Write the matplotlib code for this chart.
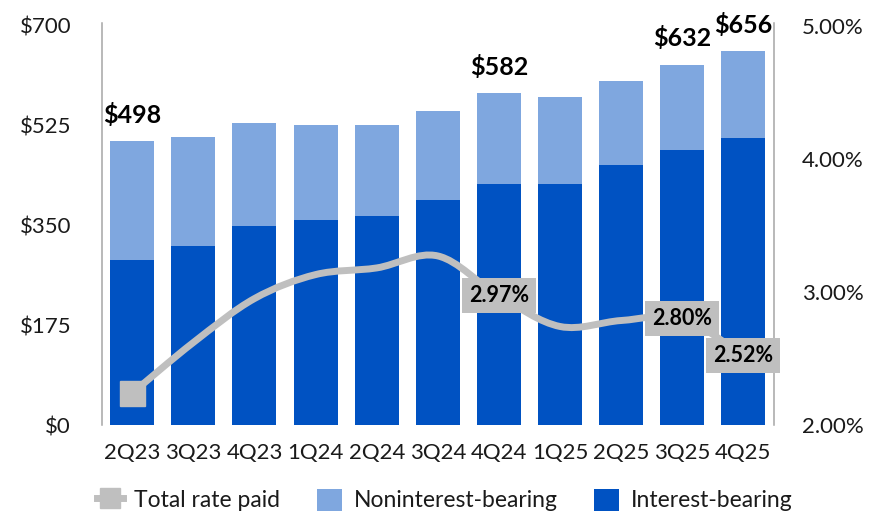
import numpy as np
import matplotlib
matplotlib.use("Agg")
import matplotlib.pyplot as plt
from matplotlib.path import Path
from matplotlib.patches import PathPatch, Patch
from matplotlib.lines import Line2D

plt.rcParams['font.family'] = ['Lato', 'DejaVu Sans']

quarters = ["2Q23", "3Q23", "4Q23", "1Q24", "2Q24", "3Q24", "4Q24", "1Q25", "2Q25", "3Q25", "4Q25"]
interest_bearing = [289, 314, 349, 360, 367, 395, 423, 423, 456, 482, 504]
noninterest_bearing = [209, 191, 180, 166, 159, 155, 159, 153, 148, 150, 152]
total_rate_paid = [2.24, 2.62, 2.95, 3.13, 3.18, 3.27, 2.97, 2.74, 2.785, 2.80, 2.52]
total_label_idx = [0, 6, 9, 10]
rate_label_idx = [6, 9, 10]
left_ticks = [0, 175, 350, 525, 700]
right_ticks = [2.0, 3.0, 4.0, 5.0]

DARK = "#0052C2"
LIGHT = "#7FA7DF"
GRAY = "#BFBFBF"
SPINE = "#A6A6A6"
TXT = "#1A1A1A"

W, H = 888, 515
fig = plt.figure(figsize=(W / 100, H / 100), dpi=100)
ax = fig.add_axes([101.7 / W, (H - 425) / H, (774 - 101.7) / W, 402 / H])
ax2 = ax.twinx()

x = np.arange(len(quarters))
ib = np.array(interest_bearing)
nib = np.array(noninterest_bearing)
ax.bar(x, ib, width=0.72, color=DARK, zorder=2)
ax.bar(x, nib, bottom=ib, width=0.72, color=LIGHT, zorder=2)

ax.set_xlim(-0.5, len(quarters) - 0.5)
ax.set_ylim(0, 705)
ax.set_yticks(left_ticks)
ax.set_yticklabels([f"${v}" for v in left_ticks])
ax.set_xticks(x)
ax.set_xticklabels(quarters)
ax.tick_params(axis='y', length=0, pad=22, labelsize=16, labelcolor=TXT)
ax.tick_params(axis='x', length=0, pad=13, labelsize=16, labelcolor=TXT)

totals = ib + nib
for i in total_label_idx:
    ax.annotate(f"${totals[i]}", (x[i], totals[i]), xytext=(0, 19), textcoords='offset points',
                ha='center', va='center', fontsize=18, fontweight='bold', color='black', zorder=6)

ax2.set_ylim(2.0, 5.0 + 0.02)
ax2.set_yticks(right_ticks)
ax2.set_yticklabels([f"{v:.2f}%" for v in right_ticks])
ax2.tick_params(axis='y', length=0, pad=20, labelsize=16, labelcolor=TXT)

for a in (ax, ax2):
    a.spines['top'].set_visible(False)
    a.spines['bottom'].set_visible(False)
    a.spines['left'].set_color(SPINE)
    a.spines['right'].set_color(SPINE)
    a.spines['left'].set_linewidth(1.1)
    a.spines['right'].set_linewidth(1.1)
ax.spines['right'].set_visible(False)
ax2.spines['left'].set_visible(False)

# smoothed line (Bezier through data points)
pts = np.column_stack([x, np.array(total_rate_paid)])
n = len(pts)
verts = [pts[0]]
codes = [Path.MOVETO]
for i in range(n - 1):
    p0 = pts[i - 1] if i > 0 else pts[i]
    p1 = pts[i]
    p2 = pts[i + 1]
    p3 = pts[i + 2] if i + 2 < n else pts[i + 1]
    c1 = p1 + (p2 - p0) / 6.0
    c2 = p2 - (p3 - p1) / 6.0
    verts += [c1, c2, p2]
    codes += [Path.CURVE4] * 3
ax2.add_patch(PathPatch(Path(verts, codes), fill=False, edgecolor=GRAY, lw=5, zorder=3,
                        capstyle='butt', joinstyle='round'))
ax2.plot([x[0]], [total_rate_paid[0]], marker='s', markersize=18, color=GRAY, linestyle='none', zorder=4)

for i in rate_label_idx:
    ax2.text(x[i], total_rate_paid[i], f"{total_rate_paid[i]:.2f}%", ha='center', va='center',
             fontsize=15.5, fontweight='bold', color='black', zorder=5,
             bbox=dict(boxstyle='square,pad=0.32', facecolor=GRAY, edgecolor='none'))

handles = [
    Line2D([], [], color=GRAY, lw=5, marker='s', markersize=15),
    Patch(facecolor=LIGHT, edgecolor='none'),
    Patch(facecolor=DARK, edgecolor='none'),
]
labels = ["Total rate paid", "Noninterest-bearing", "Interest-bearing"]
fig.legend(handles, labels, loc='center', bbox_to_anchor=(445 / W, 15 / H), ncol=3, frameon=False,
           fontsize=16.5, handlelength=1.1, handleheight=1.1, handletextpad=0.5, columnspacing=1.6,
           labelcolor=TXT)

fig.savefig("out.png", dpi=100)
